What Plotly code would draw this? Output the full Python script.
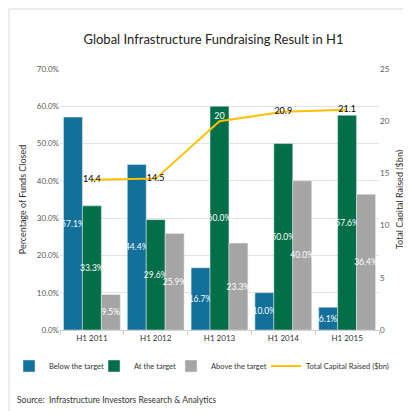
import plotly.graph_objects as go

categories = ["H1 2011", "H1 2012", "H1 2013", "H1 2014", "H1 2015"]
below = [57.1, 44.4, 16.7, 10.0, 6.1]
at_target = [33.3, 29.6, 60.0, 50.0, 57.6]
above = [9.5, 25.9, 23.3, 40.0, 36.4]
capital = [14.4, 14.5, 20, 20.9, 21.1]
capital_labels = ["14.4", "14.5", "20", "20.9", "21.1"]

FONT = "Lato, Open Sans, sans-serif"
PL, PW, PT, PH = 52, 319, 61, 261  # plot area in px
fig = go.Figure()

def bar(name, vals, color, legend):
    fig.add_trace(go.Bar(
        x=categories, y=vals, name=name, marker_color=color, legend=legend,
        text=[f"{v:.1f}%" for v in vals], textposition="inside",
        insidetextanchor="middle", textangle=0, constraintext="none",
        textfont=dict(color="white", size=8.5, family=FONT),
        cliponaxis=False,
    ))

bar("Below the target", below, "#12709A", "legend")
bar("At the target", at_target, "#036E47", "legend2")
bar("Above the target", above, "#A5A5A5", "legend3")

label_colors = ["#000000", "#000000", "white", "#000000", "#000000"]
label_pos = ["middle center", "middle center", "top center",
             "middle center", "middle center"]
fig.add_trace(go.Scatter(
    x=categories, y=capital, name="Total Capital Raised ($bn)", yaxis="y2",
    legend="legend4",
    mode="lines+text", line=dict(color="#FFC000", width=2),
    text=capital_labels, textposition=label_pos,
    textfont=dict(color=label_colors, size=9, family=FONT),
))

def leg(px_left):
    return dict(orientation="h", x=(px_left - PL) / PW, xanchor="left",
                y=(PT + PH - 358) / PH, yanchor="middle",
                font=dict(size=7.5, color="#333333"), itemwidth=30,
                bgcolor="rgba(0,0,0,0)")

fig.update_layout(
    width=411, height=411,
    margin=dict(l=PL, r=411 - PL - PW, t=PT, b=411 - PT - PH,
                autoexpand=False),
    paper_bgcolor="white", plot_bgcolor="white",
    font=dict(family=FONT, color="#595959", size=8),
    uniformtext=dict(minsize=8, mode="show"),
    title=dict(text="Global Infrastructure Fundraising Result in H1",
               x=0.5, xanchor="center", y=1 - 31 / 411, yanchor="middle",
               font=dict(size=13, color="#222222", family=FONT)),
    barmode="group", bargap=0.11, bargroupgap=0,
    xaxis=dict(showline=True, linecolor="#D0D0D0", ticks="outside",
               tickson="boundaries", ticklen=4, tickcolor="#D0D0D0",
               tickfont=dict(size=8, color="#333333"), automargin=False),
    yaxis=dict(range=[0, 70], dtick=10, tickformat=".1f", ticksuffix="%",
               showgrid=True, gridcolor="#E3E3E3", zeroline=False,
               automargin=False,
               title=dict(text="Percentage of Funds Closed",
                          font=dict(size=9, color="#333333"), standoff=8)),
    yaxis2=dict(range=[0, 25], dtick=5, overlaying="y", side="right",
                showgrid=False, zeroline=False, automargin=False,
                title=dict(text="Total Capital Raised ($bn)",
                           font=dict(size=9, color="#333333"), standoff=8)),
    legend=leg(1), legend2=leg(86), legend3=leg(163), legend4=leg(258),
    showlegend=True,
)

fig.add_annotation(text="Source:  Infrastructure Investors Research & Analytics",
                   xref="paper", yref="paper", x=(7 - PL) / PW,
                   y=(PT + PH - 392) / PH,
                   xanchor="left", yanchor="middle", showarrow=False,
                   font=dict(size=8.5, color="#333333"))

fig.add_shape(type="rect", xref="paper", yref="paper",
              x0=(1 - PL) / PW, x1=(410 - PL) / PW,
              y0=(PT + PH - 410) / PH, y1=(PT + PH - 1) / PH,
              line=dict(color="#D9D9D9", width=1))

fig.write_html("out.html")
